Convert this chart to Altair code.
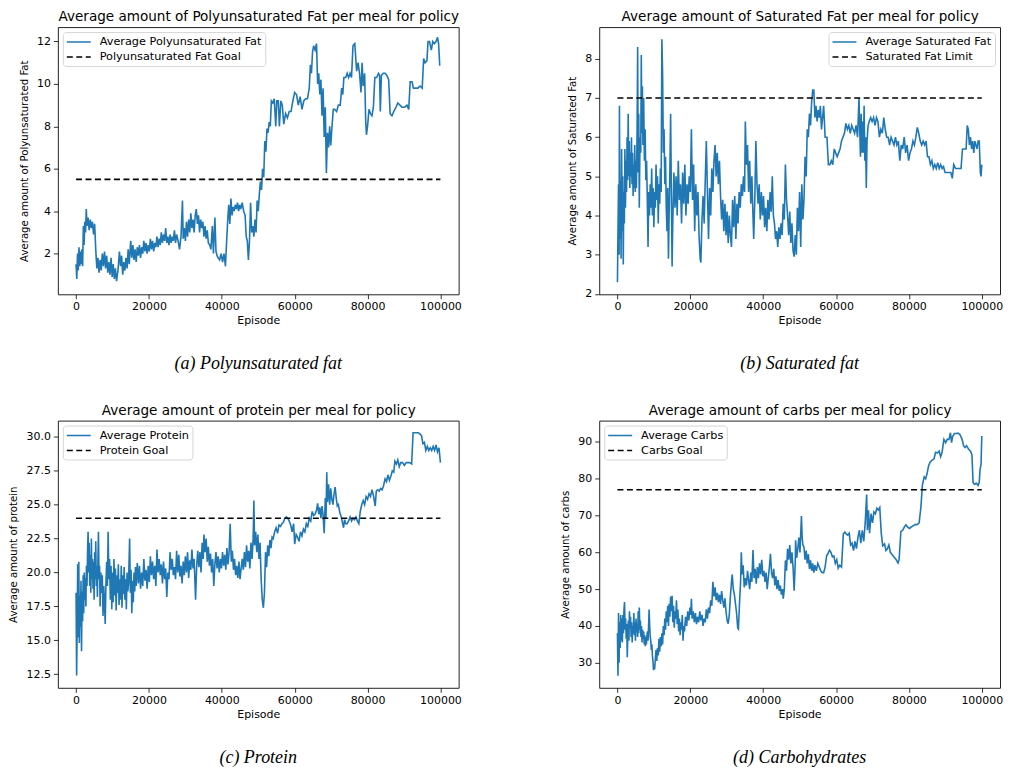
import altair as alt
import pandas as pd

# ---------------- data ----------------
# (episode, value) pairs for each "Average ..." curve
POLY = [(0,1.5),(200,0.8),(400,2.0),(600,1.2),(800,2.3),(1000,1.4),(1200,2.1),(1400,1.5),(1600,2.2),(1800,1.4),
(2000,3.3),(2200,2.4),(2400,3.5),(2600,3.0),(2800,4.1),(3000,3.3),(3300,3.7),(3600,3.1),(3900,3.6),(4200,3.2),
(4500,3.5),(4800,2.9),(5100,3.4),(5400,2.2),(5700,1.3),(6000,1.8),(6300,1.1),(6600,1.7),(6900,1.2),(7200,2.0),
(7500,1.4),(7800,2.1),(8100,1.3),(8400,1.9),(8700,1.1),(9000,1.6),(9300,1.0),(9600,1.8),(9900,0.9),(10200,1.5),
(10500,0.8),(10800,1.3),(11100,0.7),(11500,1.2),(11900,2.1),(12200,1.4),(12500,1.9),(12800,1.0),(13100,1.6),(13400,1.2),
(13700,1.8),(14000,1.3),(14300,2.2),(14600,1.5),(15000,2.6),(15300,1.8),(15600,2.4),(15900,1.7),(16200,2.2),(16500,1.6),
(16800,2.3),(17100,1.9),(17400,2.4),(17700,1.8),(18000,2.3),(18300,2.0),(18600,2.6),(18900,2.1),(19200,2.5),(19500,2.0),
(19800,2.4),(20100,2.1),(20400,2.7),(20700,2.2),(21000,2.6),(21300,2.1),(21600,2.5),(21900,2.3),(22200,2.8),(22500,2.3),
(22800,2.7),(23100,2.4),(23400,3.0),(23700,2.5),(24000,2.9),(24300,2.6),(24600,3.2),(24900,2.5),(25200,2.8),(25500,2.4),
(25800,2.9),(26100,2.5),(26400,2.8),(26700,2.6),(27000,3.1),(27300,2.5),(27600,2.9),(28000,2.6),(28400,2.2),(28800,2.8),
(29200,4.5),(29400,2.7),(29700,3.2),(30000,2.6),(30300,3.5),(30600,2.8),(30900,3.6),(31200,3.0),(31500,3.9),(31800,3.2),
(32100,3.6),(32400,3.0),(32700,3.8),(33000,4.1),(33300,3.4),(33600,3.8),(33900,3.0),(34200,3.6),(34500,3.2),(34800,3.5),
(35100,2.8),(35400,3.3),(35700,2.7),(36000,3.1),(36300,2.5),(36700,2.4),(37000,2.2),(37400,3.3),(37700,2.0),(38100,3.7),
(38400,2.1),(38700,1.9),(39000,1.8),(39400,1.7),(39800,2.0),(40200,1.6),(40600,2.0),(41000,1.4),(41300,2.5),(41600,3.5),
(41900,4.3),(42200,3.4),(42500,4.6),(42800,3.8),(43100,4.2),(43400,4.0),(43700,4.3),(44000,4.1),(44300,4.4),(44600,4.0),
(44900,4.3),(45200,4.1),(45600,4.4),(46000,4.0),(46400,3.8),(46700,2.8),(47000,2.6),(47300,1.7),(47600,2.6),(47900,4.4),
(48200,3.0),(48500,3.3),(48800,2.8),(49100,3.6),(49400,3.0),(49700,4.5),(50000,4.0),(50300,4.8),(50600,5.4),(50900,5.0),
(51200,6.0),(51500,5.6),(51800,7.3),(52100,6.8),(52400,7.9),(52700,7.7),(53000,8.2),(53300,8.0),(53600,9.2),(54000,9.1),
(54400,9.3),(54800,8.0),(55100,9.2),(55500,9.2),(55800,8.0),(56200,9.2),(56600,9.0),(57000,8.1),(57500,8.6),(58000,8.4),
(58500,8.7),(59000,8.7),(59500,9.2),(60000,9.6),(60500,9.5),(61000,9.0),(61500,9.4),(62000,8.8),(62500,9.2),(63000,9.3),
(63500,9.3),(64000,9.8),(64300,10.9),(64600,10.5),(64900,11.5),(65200,11.8),(65600,11.6),(66000,11.9),(66300,10.0),(66600,10.5),
(66900,9.5),(67200,10.2),(67500,8.5),(67800,9.8),(68100,7.5),(68400,8.9),(68700,5.8),(69000,7.7),(69300,7.0),(69600,8.0),
(69900,7.1),(70200,7.9),(70600,8.8),(71000,8.8),(71500,8.7),(72000,9.0),(72500,9.0),(72900,9.8),(73200,9.5),(73500,10.3),
(74000,10.3),(74400,10.5),(74800,10.3),(75200,10.5),(75600,10.3),(76000,11.8),(76500,11.9),(77000,10.6),(77400,11.0),(77800,10.5),
(78200,9.6),(78500,11.0),(78800,9.9),(79200,10.5),(79500,8.2),(79700,7.6),(80000,8.0),(80400,8.8),(80800,8.6),(81200,8.5),
(81600,8.9),(82000,10.3),(82500,10.3),(83000,10.5),(83300,10.4),(83500,8.7),(83800,10.4),(84300,10.5),(84800,10.5),(85300,10.4),
(85800,10.2),(86200,8.6),(86700,8.5),(87200,8.7),(87800,8.9),(88300,9.1),(88900,9.0),(89500,8.9),(90200,8.9),(90800,9.0),
(91300,8.8),(91700,10.1),(92200,10.1),(92600,9.8),(93200,9.8),(93800,9.8),(94400,9.9),(95000,9.8),(95400,11.2),(95800,11.0),
(96300,11.1),(96600,12.0),(97000,12.0),(97500,11.6),(97900,12.0),(98300,11.9),(98800,12.0),(99200,12.2),(99500,11.9),(99800,10.9),
(100000,10.9)]

SAT = [(0,2.3),(150,3.6),(300,4.8),(450,3.0),(550,6.8),(700,3.4),(850,4.9),(1000,2.9),(1150,5.7),(1300,3.6),
(1450,5.0),(1600,2.75),(1750,4.6),(1900,3.8),(2050,5.7),(2200,4.2),(2350,5.4),(2500,4.6),(2650,6.0),(2800,4.9),
(2950,6.6),(3100,5.0),(3250,5.9),(3400,4.7),(3550,5.6),(3700,5.0),(3850,6.0),(4000,4.8),(4150,5.6),(4300,4.5),
(4450,5.3),(4600,4.7),(4750,5.8),(4900,4.6),(5050,5.4),(5200,4.7),(5400,6.2),(5550,8.3),(5700,5.1),(5850,6.6),
(6000,4.2),(6200,6.0),(6400,5.6),(6550,8.1),(6700,6.1),(6850,7.3),(7000,5.8),(7200,7.0),(7400,5.4),(7600,6.2),
(7800,4.9),(8000,5.4),(8200,4.4),(8400,3.2),(8600,4.6),(8800,4.0),(9000,4.8),(9200,4.2),(9400,5.2),(9600,4.0),
(9800,4.7),(10000,3.7),(10200,4.6),(10400,4.2),(10600,5.3),(10800,4.4),(11000,5.0),(11200,3.8),(11400,4.8),(11600,4.3),
(11800,5.2),(12000,4.6),(12200,8.5),(12400,7.6),(12600,5.6),(12800,6.2),(13000,4.8),(13200,5.5),(13400,4.2),(13600,3.6),
(13800,4.7),(14000,2.9),(14200,4.1),(14400,5.2),(14600,6.6),(14800,4.6),(15000,2.7),(15200,3.9),(15500,5.1),(15800,4.2),
(16100,5.0),(16400,4.0),(16700,5.4),(17000,4.4),(17300,4.8),(17600,3.8),(17900,5.1),(18200,4.3),(18500,5.3),(18800,4.0),
(19100,4.8),(19400,4.3),(19700,5.0),(20000,4.6),(20300,6.2),(20600,4.4),(20900,5.3),(21200,3.6),(21500,4.8),(21800,4.0),
(22100,4.6),(22400,3.5),(22700,2.9),(22900,2.8),(23200,3.9),(23500,4.5),(23800,3.8),(24100,4.9),(24400,5.9),(24700,4.6),
(25000,3.4),(25300,4.7),(25600,4.0),(25900,5.2),(26200,4.6),(26500,5.4),(26800,5.8),(27100,5.0),(27400,5.6),(27700,4.8),
(28000,5.4),(28300,4.5),(28600,3.9),(28900,4.4),(29200,3.6),(29500,4.3),(29800,3.5),(30100,4.1),(30400,3.3),(30700,4.0),
(31000,3.5),(31300,3.2),(31600,4.4),(31900,3.7),(32200,4.5),(32500,3.4),(32800,4.3),(33100,3.8),(33400,4.6),(33700,4.2),
(34000,4.8),(34300,4.5),(34600,5.0),(34900,4.6),(35100,6.4),(35400,5.3),(35700,5.8),(36000,4.6),(36300,5.4),(36600,4.3),
(36900,5.0),(37200,4.0),(37400,3.4),(37700,4.4),(38000,5.9),(38300,4.8),(38600,4.3),(38900,4.8),(39200,3.9),(39500,4.6),
(39800,4.0),(40100,4.5),(40400,3.7),(40700,4.2),(41000,3.6),(41300,4.4),(41600,3.9),(41900,4.6),(42200,4.1),(42500,5.0),
(42800,4.0),(43100,3.8),(43400,3.4),(43700,3.6),(44000,3.2),(44300,3.7),(44600,3.4),(44900,3.8),(45200,3.5),(45500,4.3),
(45800,3.9),(46100,5.3),(46400,4.4),(46700,4.0),(47000,3.5),(47300,4.1),(47600,3.3),(47900,3.8),(48200,3.1),(48500,2.95),
(48800,3.5),(49100,3.0),(49400,4.2),(49700,3.6),(50000,4.6),(50300,3.2),(50600,4.8),(50900,3.9),(51200,4.4),(51500,5.5),
(51800,5.0),(52100,6.2),(52400,6.0),(52700,6.6),(53000,6.3),(53300,6.9),(53600,7.2),(53900,7.2),(54200,6.5),(54500,6.8),
(54800,6.4),(55100,6.7),(55400,6.5),(55700,6.8),(56000,6.2),(56300,6.5),(56600,6.8),(57000,6.0),(57500,6.0),(57900,5.3),
(58300,5.3),(58700,5.4),(59100,5.3),(59500,5.7),(59900,5.6),(60300,5.5),(60700,5.6),(61100,5.7),(61500,5.9),(61900,6.0),
(62300,6.1),(62700,6.35),(63100,6.2),(63500,6.3),(63900,6.1),(64300,6.3),(64700,6.2),(65100,6.1),(65500,6.3),(65900,6.0),
(66300,7.0),(66500,6.2),(66700,5.5),(66900,6.6),(67100,5.6),(67300,6.4),(67500,5.6),(67700,6.8),(67900,5.4),(68100,6.0),
(68300,4.7),(68500,5.9),(68800,6.3),(69100,6.4),(69500,6.5),(69900,6.4),(70300,6.5),(70700,6.3),(71100,6.5),(71500,6.4),
(71900,6.0),(72300,6.2),(72700,6.1),(73100,6.5),(73500,6.2),(73900,6.0),(74300,6.0),(74700,5.8),(75100,6.0),(75500,5.9),
(75900,5.8),(76300,6.0),(76700,5.8),(77100,5.9),(77500,5.4),(77900,5.8),(78300,5.7),(78700,6.0),(79100,5.6),(79500,5.8),
(79900,5.4),(80300,5.6),(80700,5.7),(81100,5.9),(81500,5.8),(81900,6.0),(82300,6.25),(82700,6.1),(83100,5.9),(83500,5.8),
(83900,5.9),(84300,5.8),(84700,5.9),(85100,5.5),(85500,5.5),(85900,5.3),(86300,5.4),(86700,5.2),(87100,5.3),(87500,5.2),
(87900,5.35),(88300,5.2),(88700,5.3),(89100,5.2),(89500,5.25),(89900,5.1),(90300,5.1),(90700,5.1),(91100,5.1),(91500,5.1),
(91900,4.95),(92300,5.3),(92800,5.2),(93300,5.2),(93800,5.2),(94300,5.2),(94700,5.7),(95200,5.7),(95700,5.7),(96000,6.3),
(96300,6.2),(96600,5.8),(96900,6.0),(97200,5.7),(97500,5.9),(97800,5.6),(98100,5.9),(98400,5.8),(98700,5.7),(99000,5.9),
(99300,5.9),(99600,5.1),(99800,5.0),(100000,5.3)]

PROT = [(0,18.5),(150,12.4),(300,16.0),(450,20.6),(600,15.2),(750,20.8),(900,14.8),(1050,18.3),(1200,16.0),(1350,19.4),
(1500,14.2),(1650,18.6),(1800,16.4),(1950,19.8),(2100,17.0),(2250,20.0),(2400,18.0),(2550,19.6),(2700,17.5),(2850,20.5),
(3000,19.0),(3150,21.5),(3300,23.0),(3450,20.0),(3600,22.2),(3750,19.0),(3900,21.3),(4050,18.5),(4200,22.5),(4350,19.5),
(4500,21.0),(4650,18.8),(4800,20.8),(4950,18.0),(5100,21.5),(5250,19.5),(5400,22.3),(5550,19.0),(5700,20.5),(5850,18.2),
(6000,21.0),(6150,23.0),(6300,19.5),(6450,20.5),(6600,17.5),(6800,20.0),(7000,18.5),(7200,19.8),(7400,16.8),(7600,19.0),
(7800,17.8),(8000,16.2),(8200,19.2),(8400,20.8),(8600,19.0),(8800,23.0),(9000,19.5),(9200,21.0),(9400,18.0),(9600,20.5),
(9800,17.3),(10000,20.0),(10200,17.8),(10400,21.0),(10600,18.3),(10800,20.3),(11000,17.2),(11200,19.8),(11400,18.5),(11600,20.6),
(11800,17.6),(12000,19.5),(12200,18.0),(12400,20.5),(12600,17.4),(12800,19.8),(13000,18.4),(13200,20.4),(13400,18.0),(13600,19.5),
(13800,17.3),(14000,20.0),(14200,18.6),(14400,19.2),(14700,22.5),(14900,18.5),(15100,20.2),(15300,17.0),(15500,19.4),(15700,17.8),
(15900,20.0),(16100,18.6),(16300,20.4),(16500,19.0),(16800,20.7),(17100,19.2),(17400,20.5),(17700,18.8),(18000,20.0),(18300,19.0),
(18600,21.0),(18900,19.4),(19200,20.2),(19500,18.8),(19800,20.5),(20100,19.3),(20400,21.2),(20700,19.8),(21000,20.8),(21300,19.5),
(21600,20.5),(21900,19.0),(22200,21.7),(22500,20.0),(22800,21.0),(23100,19.8),(23400,20.6),(23700,19.2),(24000,20.8),(24300,19.5),
(24600,20.3),(24900,18.2),(25200,20.0),(25500,19.5),(25800,21.5),(26100,20.2),(26400,21.0),(26700,19.8),(27000,20.4),(27300,19.5),
(27600,21.6),(27900,20.0),(28200,21.3),(28500,19.7),(28800,20.5),(29100,19.2),(29400,20.8),(29700,19.8),(30000,21.2),(30300,20.0),
(30600,21.5),(30900,19.6),(31200,20.9),(31500,20.2),(31800,21.7),(32100,20.3),(32400,21.0),(32800,18.0),(33100,20.5),(33400,21.6),
(33700,20.4),(34000,21.5),(34300,20.0),(34600,22.2),(34900,21.0),(35100,22.8),(35400,21.5),(35700,22.5),(36000,20.8),(36300,21.9),
(36600,20.5),(36900,21.4),(37200,20.0),(37500,21.0),(37800,19.0),(38100,20.6),(38400,21.5),(38700,20.3),(39000,21.2),(39300,20.0),
(39600,21.0),(39900,20.3),(40200,21.5),(40500,20.5),(40800,21.3),(41100,20.2),(41400,21.8),(41700,20.6),(42000,21.5),(42300,23.6),
(42600,20.8),(42900,21.6),(43200,20.2),(43500,21.0),(43800,19.8),(44100,20.5),(44400,19.6),(44700,20.8),(45000,19.5),(45300,20.3),
(45600,21.0),(45900,20.2),(46200,21.5),(46500,20.4),(46800,22.0),(47100,20.8),(47400,21.6),(47700,20.3),(48000,22.2),(48300,21.0),
(48600,22.5),(48800,25.3),(49000,22.0),(49300,23.0),(49600,21.5),(49900,22.8),(50200,21.0),(50500,22.2),(50800,19.5),(51100,18.0),
(51400,17.4),(51700,18.5),(52000,21.5),(52300,20.4),(52600,22.0),(52900,21.2),(53200,22.4),(53500,21.8),(53800,22.6),(54100,22.5),
(54500,23.0),(54900,23.3),(55300,22.9),(55700,23.5),(56100,23.4),(56500,23.6),(56900,23.7),(57300,24.0),(57700,24.1),(58100,24.0),
(58500,23.8),(58900,23.5),(59300,23.0),(59700,23.6),(60000,22.1),(60400,22.8),(60800,22.6),(61200,22.3),(61600,23.0),(62000,22.7),
(62400,23.2),(62800,23.0),(63200,23.6),(63600,23.4),(64000,24.0),(64400,23.8),(64800,24.5),(65200,24.2),(65600,24.3),(66000,24.6),
(66300,25.1),(66600,24.3),(66900,24.8),(67200,24.0),(67500,24.9),(67800,24.2),(68100,22.9),(68400,25.5),(68600,24.0),(68800,27.4),
(69000,25.2),(69300,26.5),(69600,25.0),(69900,26.2),(70200,25.4),(70500,25.0),(70800,25.8),(71100,26.3),(71400,25.5),(71700,24.9),
(72000,25.0),(72400,24.4),(72800,24.1),(73100,23.7),(73400,23.3),(73700,23.9),(74000,23.6),(74400,23.6),(74800,23.8),(75200,24.1),
(75600,23.8),(76000,24.0),(76400,23.9),(76800,24.1),(77200,23.8),(77600,23.6),(78000,24.5),(78400,25.0),(78800,25.3),(79200,25.0),
(79600,25.6),(80000,25.4),(80400,25.8),(80800,25.6),(81200,26.1),(81600,25.7),(82100,24.9),(82400,26.0),(82800,26.1),(83200,26.0),
(83600,26.2),(84000,26.1),(84400,26.4),(84800,26.9),(85200,26.7),(85600,27.2),(86000,26.8),(86400,27.1),(86800,27.5),(87200,27.4),
(87500,28.2),(87900,28.0),(88300,28.3),(88700,27.8),(89100,28.1),(89600,28.1),(90100,27.9),(90600,28.1),(91100,28.1),(91600,28.1),
(92100,28.0),(92500,30.3),(93000,30.3),(93500,30.3),(94000,30.3),(94400,30.2),(94800,30.1),(95200,29.5),(95600,29.6),(96000,29.0),
(96400,29.3),(96800,29.0),(97200,29.2),(97600,29.0),(98000,29.3),(98400,29.0),(98800,29.4),(99200,28.9),(99600,29.2),(100000,28.1)]

CARB = [(0,38.0),(150,26.5),(300,43.5),(450,30.0),(600,41.0),(750,34.0),(900,43.0),(1050,36.0),(1200,42.0),(1350,35.5),
(1500,43.0),(1650,38.0),(1800,44.5),(1950,46.5),(2100,39.0),(2250,42.0),(2400,36.5),(2550,40.5),(2700,31.5),(2850,38.0),
(3000,41.5),(3150,36.0),(3300,44.0),(3450,39.5),(3600,42.5),(3750,37.0),(3900,41.0),(4050,35.5),(4200,40.0),(4350,38.0),
(4500,43.5),(4650,37.5),(4800,41.0),(4950,36.0),(5100,42.0),(5250,38.5),(5400,40.5),(5550,37.0),(5700,44.0),(5850,38.0),
(6000,45.0),(6150,39.0),(6300,41.5),(6450,37.0),(6600,40.0),(6750,35.5),(6900,39.0),(7050,36.5),(7200,38.5),(7350,35.0),
(7500,37.5),(7650,34.5),(7800,37.0),(7950,35.0),(8100,37.5),(8250,38.5),(8400,36.0),(8550,40.0),(8700,44.5),(8850,40.0),
(9000,37.0),(9150,36.0),(9300,33.5),(9450,35.0),(9600,32.0),(9750,30.5),(9900,28.0),(10050,29.5),(10200,28.2),(10400,31.0),
(10600,33.5),(10800,30.5),(11000,34.0),(11200,32.0),(11400,36.5),(11600,33.0),(11800,37.0),(12000,34.5),(12200,38.0),(12400,35.0),
(12600,40.0),(12800,37.5),(13000,42.0),(13200,39.0),(13400,44.0),(13600,41.0),(13800,45.5),(14000,40.0),(14200,46.0),(14400,42.5),
(14600,48.0),(14800,44.0),(15000,48.2),(15200,41.0),(15400,45.5),(15600,39.5),(15800,44.0),(16000,42.0),(16200,47.0),(16400,40.5),
(16600,44.5),(16800,38.5),(17000,42.0),(17200,37.5),(17400,41.0),(17600,39.0),(17800,43.0),(18000,36.0),(18200,40.0),(18400,38.5),
(18700,42.5),(19000,40.0),(19300,44.0),(19600,41.5),(19900,45.0),(20100,43.0),(20300,47.4),(20500,42.0),(20800,44.0),(21100,41.0),
(21400,43.5),(21700,40.5),(22000,42.5),(22300,41.0),(22600,44.0),(22900,41.5),(23200,43.0),(23500,40.0),(23800,42.0),(24100,41.0),
(24400,44.5),(24700,42.0),(25000,45.0),(25300,43.5),(25600,47.0),(25900,45.5),(26200,52.0),(26500,48.0),(26800,50.5),(27100,47.0),
(27400,49.0),(27700,46.5),(28000,48.5),(28300,46.0),(28600,49.5),(28900,47.0),(29200,45.0),(29500,47.5),(29800,44.0),(30100,41.5),
(30400,40.6),(30700,43.0),(31000,48.0),(31300,52.0),(31500,54.0),(31800,50.0),(32100,48.5),(32400,46.0),(32700,43.5),(33000,39.5),
(33200,39.2),(33500,46.0),(33800,52.0),(34000,60.0),(34200,54.0),(34500,56.5),(34800,50.5),(35100,53.0),(35400,51.0),(35700,55.0),
(36000,52.5),(36300,50.0),(36600,54.5),(36900,52.0),(37200,60.6),(37500,53.0),(37800,55.5),(38100,51.5),(38400,56.0),(38700,53.0),
(39000,57.0),(39300,54.0),(39600,58.0),(39900,53.5),(40200,55.0),(40500,52.0),(40800,54.5),(41100,50.0),(41400,53.0),(41700,56.0),
(42000,59.6),(42300,54.5),(42600,53.0),(42900,55.5),(43200,51.0),(43500,53.5),(43800,50.0),(44100,52.5),(44400,49.5),(44700,51.0),
(45000,48.5),(45300,50.0),(45500,47.4),(45800,50.0),(46100,57.8),(46400,55.0),(46700,61.0),(47000,58.0),(47300,62.0),(47600,57.0),
(47900,60.0),(48200,56.0),(48500,49.6),(48800,57.0),(48900,63.3),(49200,58.5),(49500,61.0),(49800,64.0),(50100,60.0),(50300,65.0),
(50500,69.9),(50700,64.0),(50900,62.0),(51200,61.4),(51500,58.0),(51800,60.5),(52100,57.0),(52400,59.5),(52700,55.5),(53000,57.8),
(53300,55.0),(53600,57.0),(53900,54.5),(54200,56.5),(54600,55.0),(55000,57.0),(55400,56.0),(55800,55.0),(56200,54.5),(56600,54.5),
(57000,56.0),(57400,59.0),(57800,59.7),(58200,60.6),(58600,60.0),(59000,58.8),(59400,59.0),(59800,57.0),(60200,58.0),(60600,55.7),
(61000,56.5),(61500,56.0),(62000,65.0),(62400,65.5),(62800,65.0),(63200,64.7),(63600,65.2),(64000,62.0),(64400,62.5),(64800,60.5),
(65200,63.0),(65600,61.0),(66000,64.0),(66400,66.0),(66800,62.5),(67200,66.0),(67600,63.0),(68000,68.0),(68400,75.7),(68600,66.0),
(68900,71.4),(69200,65.2),(69600,70.5),(70000,68.0),(70400,71.0),(70800,70.5),(71200,72.0),(71600,71.5),(72000,72.2),(72400,65.3),
(72800,61.8),(73300,62.3),(73700,60.5),(74100,61.0),(74500,62.0),(74900,60.0),(75300,59.5),(75700,59.0),(76100,58.5),(76500,58.0),
(77000,57.1),(77300,58.0),(77800,65.7),(78300,66.0),(78800,67.0),(79200,67.5),(79700,66.8),(80200,66.5),(80700,67.0),(81200,67.2),
(81700,67.6),(82200,67.5),(82800,68.0),(83300,72.4),(83700,78.3),(84200,80.5),(84600,80.0),(85000,81.5),(85400,83.5),(85800,84.5),
(86300,85.0),(86900,85.4),(87300,87.2),(87800,87.0),(88300,87.5),(88700,86.0),(89100,87.2),(89600,90.7),(90100,89.8),(90500,90.7),
(91000,90.7),(91400,92.5),(91700,89.8),(92000,91.5),(92500,92.3),(93000,92.3),(93500,92.4),(94000,92.0),(94600,90.7),(95000,89.0),
(95400,88.5),(95800,89.0),(96400,88.0),(96900,87.5),(97300,86.5),(97600,79.0),(98000,78.5),(98500,78.8),(99000,78.2),(99300,79.0),
(99500,82.3),(99800,84.0),(100000,91.6)]

GOALS = [5.5, 7.0, 24.0, 77.0]
GOAL_X = [0, 100000]
X_TICKS = [0, 20000, 40000, 60000, 80000, 100000]

PANELS = [
    dict(pts=POLY, avg="Average Polyunsaturated Fat", goal_name="Polyunsaturated Fat Goal", goal=GOALS[0],
         title="Average amount of Polyunsaturated Fat per meal for policy",
         ytitle="Average amount of Polyunsaturated Fat", caption="(a) Polyunsaturated fat",
         ydomain=[0.08, 12.68], yticks=[2, 4, 6, 8, 10, 12], yfmt="d", lorient="top-left"),
    dict(pts=SAT, avg="Average Saturated Fat", goal_name="Saturated Fat Limit", goal=GOALS[1],
         title="Average amount of Saturated Fat per meal for policy",
         ytitle="Average amount of Saturated Fat", caption="(b) Saturated fat",
         ydomain=[1.99, 8.81], yticks=[2, 3, 4, 5, 6, 7, 8], yfmt="d", lorient="top-right"),
    dict(pts=PROT, avg="Average Protein", goal_name="Protein Goal", goal=GOALS[2],
         title="Average amount of protein per meal for policy",
         ytitle="Average amount of protein", caption="(c) Protein",
         ydomain=[11.5, 31.2], yticks=[12.5, 15.0, 17.5, 20.0, 22.5, 25.0, 27.5, 30.0], yfmt=".1f", lorient="top-left"),
    dict(pts=CARB, avg="Average Carbs", goal_name="Carbs Goal", goal=GOALS[3],
         title="Average amount of carbs per meal for policy",
         ytitle="Average amount of carbs", caption="(d) Carbohydrates",
         ydomain=[23.2, 95.8], yticks=[30, 40, 50, 60, 70, 80, 90], yfmt="d", lorient="top-left"),
]

W, H = 402, 268
FONT = "DejaVu Sans"


def make_panel(p):
    eps = [a for a, _ in p["pts"]]
    vals = [b for _, b in p["pts"]]
    df = pd.DataFrame({
        "ep": eps + GOAL_X,
        "val": vals + [p["goal"], p["goal"]],
        "series": [p["avg"]] * len(eps) + [p["goal_name"]] * 2,
    })
    domain = [p["avg"], p["goal_name"]]
    xscale = alt.Scale(domain=[-5000, 105000], nice=False, zero=False)
    yscale = alt.Scale(domain=p["ydomain"], nice=False, zero=False)
    yaxis = alt.Axis(title=p["ytitle"], values=p["yticks"], format=p["yfmt"], orient="left",
                     grid=False, domain=False, tickSize=4.5, labelPadding=3, titlePadding=7,
                     titleFontSize=10.2)
    leg = alt.Legend(
        title=None, orient=p["lorient"], offset=5, padding=3, rowPadding=2,
        fillColor="white", strokeColor="#d6d6d6", cornerRadius=3,
        labelFont=FONT, labelFontSize=11.3, labelColor="#000", labelLimit=400,
        symbolType="M-1,0L3,0", symbolSize=144, symbolStrokeWidth=1.5,
        symbolFillColor="transparent", labelOffset=20,
    )
    line = alt.Chart(df).mark_line(strokeWidth=1.6).encode(
        x=alt.X("ep:Q", scale=xscale,
                axis=alt.Axis(orient="bottom", title="Episode", values=X_TICKS, format="d",
                              grid=False, domain=False, tickSize=4.5, labelPadding=2, titlePadding=3)),
        y=alt.Y("val:Q", scale=yscale, axis=yaxis),
        color=alt.Color("series:N", scale=alt.Scale(domain=domain, range=["#1f77b4", "#000000"]), legend=leg),
        strokeDash=alt.StrokeDash("series:N", scale=alt.Scale(domain=domain, range=[[1, 0], [6, 3.5]]), legend=leg),
    )
    top = alt.Chart(df[df["series"] == p["goal_name"]]).mark_line(opacity=0).encode(
        x=alt.X("ep:Q", scale=xscale,
                axis=alt.Axis(orient="top", title=p["title"], labels=False, ticks=False, domain=False,
                              grid=False, titlePadding=3.5, titleFontSize=13.6)),
        y=alt.Y("val:Q", scale=yscale, axis=yaxis),
    )
    return alt.layer(line, top).resolve_axis(x="independent").properties(
        width=W, height=H,
        title=alt.TitleParams(p["caption"], orient="bottom", anchor="middle", font="Liberation Serif",
                              fontStyle="italic", fontWeight="normal", fontSize=18, color="#000", offset=29.5),
    )


chart = alt.concat(*[make_panel(p) for p in PANELS], columns=2, spacing={"row": 28.7, "column": 98}).resolve_scale(
    color="independent", strokeDash="independent"
).properties(
    padding={"left": 0, "top": 0, "right": -1, "bottom": 0}
).configure_view(stroke="#222", strokeWidth=1).configure_axis(
    labelFont=FONT, labelFontSize=11, labelColor="#000", titleFont=FONT, titleFontSize=11,
    titleFontWeight="normal", titleColor="#000", tickColor="#000", tickWidth=0.8,
).configure_legend(labelFont=FONT)

chart.save("out.html", embed_options={"renderer": "svg", "actions": False})
